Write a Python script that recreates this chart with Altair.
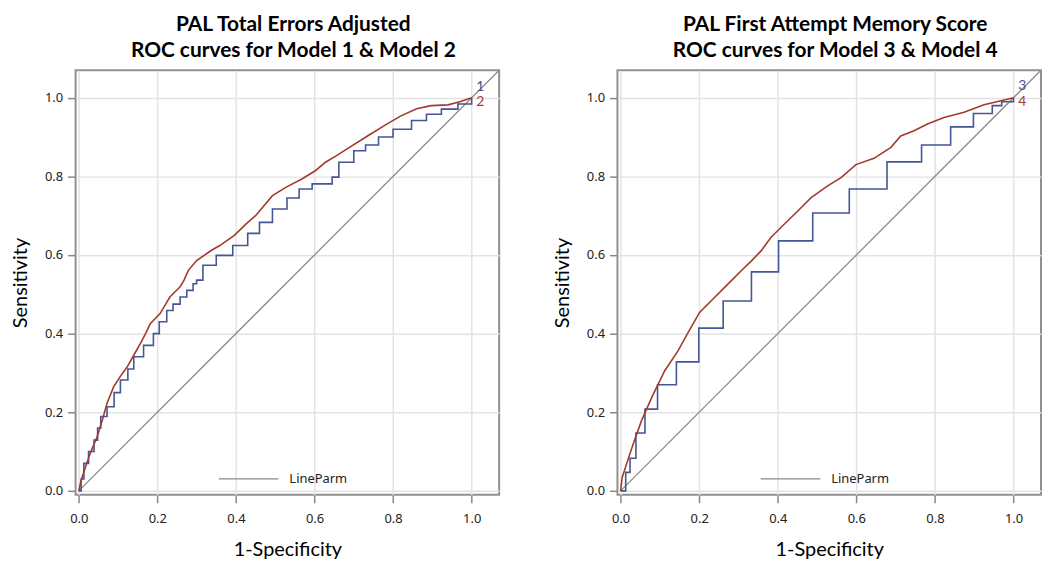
import altair as alt
import pandas as pd

# ---- data ----
m1_x = [0, 0.006, 0.013, 0.025, 0.039, 0.048, 0.056, 0.072, 0.09, 0.106, 0.125, 0.14, 0.165, 0.19, 0.205,
        0.224, 0.24, 0.258, 0.275, 0.291, 0.3, 0.316, 0.35, 0.392, 0.43, 0.46, 0.493, 0.53, 0.561, 0.594,
        0.645, 0.662, 0.7, 0.73, 0.763, 0.8, 0.847, 0.885, 0.923, 0.965, 1.0]
m1_y = [0, 0.03, 0.07, 0.1, 0.129, 0.16, 0.189, 0.214, 0.25, 0.282, 0.31, 0.341, 0.37, 0.4, 0.43,
        0.459, 0.475, 0.493, 0.51, 0.527, 0.536, 0.574, 0.599, 0.624, 0.655, 0.683, 0.717, 0.745, 0.768, 0.781,
        0.798, 0.836, 0.865, 0.88, 0.9, 0.92, 0.942, 0.958, 0.971, 0.984, 1.0]

m2_x = [0, 0.004, 0.009, 0.017, 0.026, 0.035, 0.047, 0.06, 0.072, 0.089, 0.105, 0.123, 0.14, 0.157, 0.17,
        0.182, 0.207, 0.232, 0.258, 0.268, 0.279, 0.3, 0.338, 0.359, 0.396, 0.426, 0.45, 0.472, 0.493, 0.527,
        0.569, 0.603, 0.628, 0.655, 0.683, 0.737, 0.784, 0.82, 0.86, 0.897, 0.94, 0.97, 1.0]
m2_y = [0, 0.018, 0.036, 0.06, 0.087, 0.11, 0.138, 0.18, 0.223, 0.265, 0.29, 0.315, 0.345, 0.375, 0.4,
        0.425, 0.451, 0.493, 0.519, 0.536, 0.561, 0.586, 0.612, 0.624, 0.65, 0.679, 0.7, 0.726, 0.751, 0.772,
        0.794, 0.815, 0.836, 0.852, 0.87, 0.904, 0.933, 0.954, 0.972, 0.98, 0.982, 0.99, 1.0]

m3_x = [0, 0.013, 0.024, 0.039, 0.062, 0.094, 0.142, 0.199, 0.261, 0.333, 0.402, 0.489, 0.582, 0.678,
        0.766, 0.84, 0.898, 0.946, 0.97, 1.0]
m3_y = [0, 0.047, 0.083, 0.147, 0.208, 0.27, 0.328, 0.414, 0.483, 0.557, 0.636, 0.707, 0.768, 0.837,
        0.88, 0.926, 0.96, 0.98, 0.99, 1.0]

m4_x = [0, 0.004, 0.015, 0.032, 0.053, 0.079, 0.112, 0.146, 0.172, 0.201, 0.239, 0.273, 0.307, 0.333,
        0.358, 0.383, 0.417, 0.451, 0.485, 0.527, 0.561, 0.599, 0.645, 0.688, 0.713, 0.747, 0.781, 0.823,
        0.874, 0.925, 1.0]
m4_y = [0, 0.034, 0.068, 0.119, 0.178, 0.237, 0.305, 0.356, 0.403, 0.454, 0.492, 0.526, 0.56, 0.585,
        0.611, 0.645, 0.679, 0.712, 0.746, 0.776, 0.797, 0.83, 0.846, 0.874, 0.903, 0.916, 0.933, 0.95,
        0.963, 0.982, 1.0]

ticks = [0.0, 0.2, 0.4, 0.6, 0.8, 1.0]
diag = [0, 1.07]

BLUE = "#445694"
RED = "#A23A2E"
GREY = "#8a8a8a"
W, H = 426, 427
XDOM = [-0.008, 1.07]
YDOM = [-0.01, 1.07]

xs = alt.Scale(domain=XDOM, nice=False, zero=False)
ys = alt.Scale(domain=YDOM, nice=False, zero=False)
xax = alt.Axis(values=ticks, format=".1f", title="1-Specificity")
yax = alt.Axis(values=ticks, format=".1f", title="Sensitivity")


def panel(title, sx, sy, lab_s, sx2, sy2, lab_s2, lab_y):
    d_step = pd.DataFrame({"x": sx, "y": sy})
    d_smooth = pd.DataFrame({"x": sx2, "y": sy2})
    d_diag = pd.DataFrame({"x": diag, "y": diag})
    d_lab = pd.DataFrame({"x": [1.012, 1.012], "y": lab_y, "t": [lab_s, lab_s2], "c": [BLUE, RED]})

    base_diag = alt.Chart(d_diag).mark_line(color=GREY, strokeWidth=1.3, clip=True).encode(
        x=alt.X("x:Q", scale=xs, axis=xax), y=alt.Y("y:Q", scale=ys, axis=yax))
    stepline = alt.Chart(d_step).mark_line(color=BLUE, strokeWidth=1.6, interpolate="step-after").encode(
        x=alt.X("x:Q", scale=xs, axis=xax), y=alt.Y("y:Q", scale=ys, axis=yax))
    smooth = alt.Chart(d_smooth).mark_line(color=RED, strokeWidth=1.6).encode(
        x=alt.X("x:Q", scale=xs, axis=xax), y=alt.Y("y:Q", scale=ys, axis=yax))
    labels = alt.Chart(d_lab).mark_text(align="left", baseline="middle", font="Lato", fontSize=14).encode(
        x=alt.X("x:Q", scale=xs, axis=xax), y=alt.Y("y:Q", scale=ys, axis=yax),
        text="t:N", color=alt.Color("c:N", scale=None))
    one = pd.DataFrame({"a": [0]})
    leg_rule = alt.Chart(one).mark_rule(color=GREY, strokeWidth=1.5).encode(
        x=alt.value(144), x2=alt.value(204), y=alt.value(411))
    leg_text = alt.Chart(one).mark_text(text="LineParm", align="left", baseline="middle",
                                        font="Noto Sans", fontSize=13, color="#222").encode(
        x=alt.value(215), y=alt.value(411))
    return alt.layer(base_diag, stepline, smooth, labels, leg_rule, leg_text).properties(
        width=W, height=H,
        title=alt.TitleParams(title, font="Lato", fontSize=21, fontWeight="bold", color="black",
                              anchor="middle", frame="group", dx=6, offset=9, lineHeight=26))


left = panel(["PAL Total Errors Adjusted", "ROC curves for Model 1 & Model 2"],
             m1_x, m1_y, "1", m2_x, m2_y, "2", [1.027, 0.988])
right = panel(["PAL First Attempt Memory Score", "ROC curves for Model 3 & Model 4"],
              m3_x, m3_y, "3", m4_x, m4_y, "4", [1.029, 0.99])

chart = alt.hconcat(left, right, spacing=51).properties(
    padding={"left": 1, "top": 4, "right": 0, "bottom": 0}
).configure_view(
    stroke="#909090", strokeWidth=2
).configure_axis(
    domain=False, grid=True, gridColor="#e3e3e3", gridWidth=1.5,
    tickColor="#888888", tickSize=8, tickWidth=1.5,
    labelFont="Noto Sans", labelFontSize=13, labelColor="#222", labelPadding=5,
    titleFont="Lato", titleFontSize=20, titleFontWeight="normal", titleColor="black"
).configure_axisX(
    labelPadding=10, titlePadding=14
).configure_axisY(
    titlePadding=14
)

chart.save("out.html", embed_options={"renderer": "svg", "actions": False})
